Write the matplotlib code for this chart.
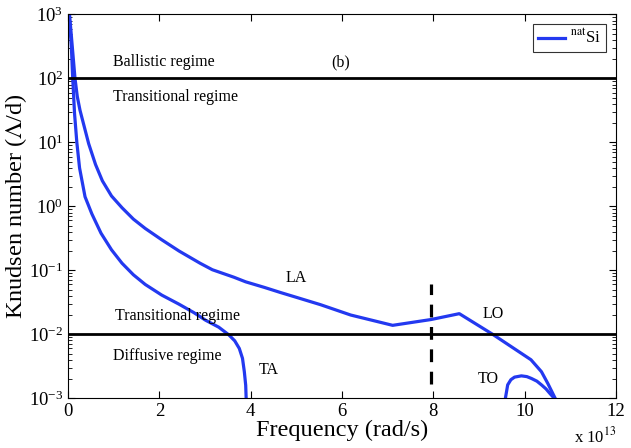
import numpy as np
import matplotlib
matplotlib.use('Agg')
import matplotlib.pyplot as plt

plt.rcParams['font.family'] = ['Liberation Serif', 'DejaVu Serif']
plt.rcParams['mathtext.fontset'] = 'stix'

# frequency in units of 1e13 rad/s, Knudsen number (LA branch continues into LO)
la_freq = [0.03, 0.09, 0.15, 0.20, 0.26, 0.45, 0.60, 0.75, 0.95, 1.18, 1.43, 1.69, 2.05,
           2.43, 2.89, 3.16, 3.63, 3.89, 4.30, 4.65, 4.99, 5.53, 6.19, 7.11, 7.95,
           8.57, 9.30, 10.14, 10.37, 10.51, 10.67]
la_kn = [1000, 316, 100, 52, 31.6, 9.5, 4.5, 2.5, 1.45, 0.95, 0.63, 0.45, 0.30,
         0.20, 0.129, 0.102, 0.078, 0.066, 0.054, 0.045, 0.038, 0.029, 0.020, 0.0138, 0.017,
         0.021, 0.010, 0.0040, 0.0026, 0.0017, 0.001]

ta_freq = [0.02, 0.05, 0.07, 0.10, 0.14, 0.19, 0.25, 0.37, 0.52, 0.72, 0.95, 1.18, 1.43,
           1.69, 2.05, 2.43, 2.75, 3.01, 3.30, 3.52, 3.65, 3.75, 3.82, 3.86, 3.89, 3.90]
ta_kn = [1000, 500, 316, 100, 28.2, 10, 3.98, 1.41, 0.76, 0.38, 0.209, 0.129, 0.085,
         0.060, 0.041, 0.0295, 0.0219, 0.0166, 0.0129, 0.0098, 0.0079, 0.0060, 0.0042,
         0.0026, 0.0016, 0.001]

to_freq = [9.58, 9.63, 9.70, 9.78, 9.93, 10.05, 10.15, 10.27, 10.37, 10.47, 10.55, 10.65]
to_kn = [0.001, 0.00162, 0.00195, 0.00214, 0.00224, 0.00218, 0.00204, 0.00185, 0.00162,
         0.0014, 0.0012, 0.001]

regime_lines = [100, 0.01]
cutoff_freq = 7.95
cutoff_range = [0.0017, 0.06]

blue = '#2339f0'

fig = plt.figure(figsize=(6.31, 4.48), dpi=100)
ax = fig.add_axes([0.108, 0.111, 0.868, 0.857])

ax.plot(la_freq, la_kn, color=blue, lw=2.3, label=r'$^{\rm nat}$Si', solid_joinstyle='round')
ax.plot(ta_freq, ta_kn, color=blue, lw=2.3, solid_joinstyle='round')
ax.plot(to_freq, to_kn, color=blue, lw=2.3, solid_joinstyle='round')

for y in regime_lines:
    ax.axhline(y, color='black', lw=2.0)
ax.plot([cutoff_freq, cutoff_freq], cutoff_range, color='black', lw=2.3, dashes=(4, 3))

ax.set_yscale('log')
ax.set_xlim(0, 12)
ax.set_ylim(1e-3, 1e3)
ax.set_xticks([0, 2, 4, 6, 8, 10, 12])
ax.tick_params(which='both', direction='in', top=True, right=True, labelsize=13.5)
ax.tick_params(which='major', length=5)
ax.tick_params(which='minor', length=3)

ax.set_xlabel('Frequency (rad/s)', fontsize=17.5, labelpad=0)
ax.set_ylabel(r'Knudsen number ($\Lambda$/d)', fontsize=17.5, labelpad=0)

ax.text(1.0, -0.1, r'x 10$^{13}$', fontsize=12, ha='right', va='center',
        transform=ax.transAxes)

fs = 11.5
ax.text(0.99, 180, 'Ballistic regime', fontsize=fs, va='center')
ax.text(5.97, 180, '(b)', fontsize=fs, va='center', ha='center')
ax.text(0.99, 51, 'Transitional regime', fontsize=fs, va='center')
ax.text(1.03, 0.0195, 'Transitional regime', fontsize=fs, va='center')
ax.text(0.99, 0.0046, 'Diffusive regime', fontsize=fs, va='center')
ax.text(4.39, 0.0028, 'TA', fontsize=fs, va='center', ha='center')
ax.text(5.0, 0.076, 'LA', fontsize=fs, va='center', ha='center')
ax.text(9.32, 0.0204, 'LO', fontsize=fs, va='center', ha='center')
ax.text(9.21, 0.002, 'TO', fontsize=fs, va='center', ha='center')

leg = ax.legend(loc='upper right', fontsize=12, handlelength=1.6, fancybox=False,
                borderpad=0.3, handletextpad=0.3, borderaxespad=0.6)
leg.get_frame().set_edgecolor('black')
leg.get_frame().set_linewidth(0.8)

fig.savefig('out.png', dpi=100)
